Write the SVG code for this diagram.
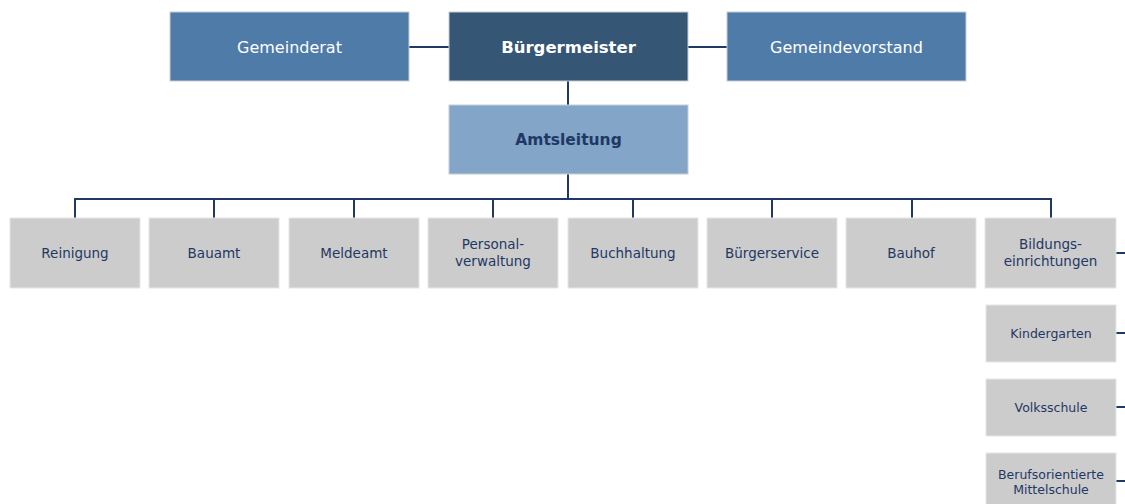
<svg xmlns="http://www.w3.org/2000/svg" width="1125" height="504" viewBox="0 0 1125 504">
<style>
.top{fill:#4E7BA8;stroke:#C8CDD3;stroke-width:1}
.head{fill:#355674;stroke:#C8CDD3;stroke-width:1}
.amt{fill:#82A5C8;stroke:#C8CDD3;stroke-width:1}
.unit{fill:#CCCCCC;stroke:#E6E6E6;stroke-width:1}
text{font-family:"DejaVu Sans","Verdana",sans-serif;text-anchor:middle;dominant-baseline:central}
.tw{fill:#FFFFFF;font-size:16px}
.tb{fill:#FFFFFF;font-size:16.5px;font-weight:bold}
.ta{fill:#1F3864;font-size:15.5px;font-weight:bold}
.tu{fill:#1F3864;font-size:13.5px}
.ts{fill:#1F3864;font-size:12.5px}
.c{stroke:#1F3864;stroke-width:2;fill:none}
</style>
<g id="connectors">
<line class="c" x1="409" y1="47" x2="449" y2="47"/>
<line class="c" x1="688" y1="47" x2="727" y2="47"/>
<line class="c" x1="568" y1="81" x2="568" y2="105"/>
<line class="c" x1="568" y1="174" x2="568" y2="199"/>
<polyline class="c" points="75,218 75,199 1051,199 1051,218"/>
<line class="c" x1="214" y1="199" x2="214" y2="218"/>
<line class="c" x1="354" y1="199" x2="354" y2="218"/>
<line class="c" x1="493" y1="199" x2="493" y2="218"/>
<line class="c" x1="633" y1="199" x2="633" y2="218"/>
<line class="c" x1="772" y1="199" x2="772" y2="218"/>
<line class="c" x1="912" y1="199" x2="912" y2="218"/>
<line class="c" x1="1116" y1="253" x2="1125" y2="253"/>
<line class="c" x1="1116" y1="333" x2="1125" y2="333"/>
<line class="c" x1="1116" y1="407" x2="1125" y2="407"/>
<line class="c" x1="1116" y1="481" x2="1125" y2="481"/>
<line x1="1125.5" y1="253" x2="1125.5" y2="504" stroke="#1F3864" stroke-width="1" opacity="0.3"/>
</g>
<g id="gemeinderat"><rect class="top" x="170" y="12" width="239" height="69"/><text class="tw" x="289.5" y="47">Gemeinderat</text></g>
<g id="buergermeister"><rect class="head" x="449" y="12" width="239" height="69"/><text class="tb" x="568.5" y="47">Bürgermeister</text></g>
<g id="gemeindevorstand"><rect class="top" x="727" y="12" width="239" height="69"/><text class="tw" x="846.5" y="47">Gemeindevorstand</text></g>
<g id="amtsleitung"><rect class="amt" x="449" y="105" width="239" height="69"/><text class="ta" x="568.5" y="140">Amtsleitung</text></g>
<g id="reinigung"><rect class="unit" x="10" y="218" width="130" height="70"/><text class="tu" x="75" y="253">Reinigung</text></g>
<g id="bauamt"><rect class="unit" x="149" y="218" width="130" height="70"/><text class="tu" x="214" y="253">Bauamt</text></g>
<g id="meldeamt"><rect class="unit" x="289" y="218" width="130" height="70"/><text class="tu" x="354" y="253">Meldeamt</text></g>
<g id="personalverwaltung"><rect class="unit" x="428" y="218" width="130" height="70"/><text class="tu" x="493" y="244">Personal-</text><text class="tu" x="493" y="261">verwaltung</text></g>
<g id="buchhaltung"><rect class="unit" x="568" y="218" width="130" height="70"/><text class="tu" x="633" y="253">Buchhaltung</text></g>
<g id="buergerservice"><rect class="unit" x="707" y="218" width="130" height="70"/><text class="tu" x="772" y="253">Bürgerservice</text></g>
<g id="bauhof"><rect class="unit" x="846" y="218" width="130" height="70"/><text class="tu" x="911" y="253">Bauhof</text></g>
<g id="bildungseinrichtungen"><rect class="unit" x="985" y="218" width="131" height="70"/><text class="tu" x="1050.5" y="244">Bildungs-</text><text class="tu" x="1050.5" y="261">einrichtungen</text></g>
<g id="kindergarten"><rect class="unit" x="986" y="305" width="130" height="57"/><text class="ts" x="1051" y="333">Kindergarten</text></g>
<g id="volksschule"><rect class="unit" x="986" y="379" width="130" height="57"/><text class="ts" x="1051" y="407">Volksschule</text></g>
<g id="mittelschule"><rect class="unit" x="986" y="453" width="130" height="57"/><text class="ts" x="1051" y="474">Berufsorientierte</text><text class="ts" x="1051" y="489">Mittelschule</text></g>
</svg>
